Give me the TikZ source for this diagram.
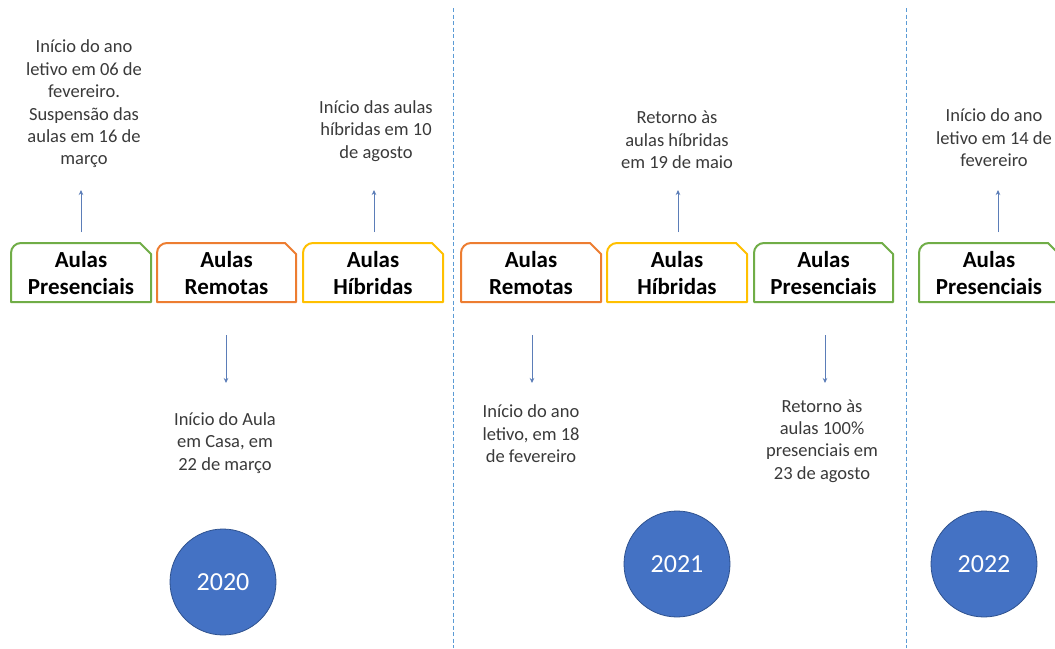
\documentclass[tikz,border=0pt]{standalone}
\usepackage{fontspec}
\setmainfont{Carlito}
\usetikzlibrary{arrows.meta}
\definecolor{pgreen}{HTML}{70AD47}
\definecolor{porange}{HTML}{ED7D31}
\definecolor{pyellow}{HTML}{FFC000}
\definecolor{pblue}{HTML}{4472C4}
\definecolor{pblueline}{HTML}{2F528F}
\definecolor{parrow}{HTML}{5B7DB8}
\definecolor{pdash}{HTML}{5B9BD5}
\definecolor{ptext}{HTML}{3A3A3A}
\tikzset{
  boxtxt/.style={font=\fontsize{23}{27}\selectfont\bfseries, text=black, align=center, inner sep=0pt},
  evtxt/.style={font=\fontsize{18.5}{22.4}\selectfont, text=ptext, align=center, inner sep=0pt},
  yearnode/.style={circle, fill=pblue, draw=pblueline, line width=0.8pt, minimum size=106pt, inner sep=0pt, text=white, font=\fontsize{26}{30}\selectfont},
  arr/.style={draw=parrow, line width=0.8pt, -{Stealth[length=5pt,width=4.5pt]}},
  sep/.style={draw=pdash, line width=0.7pt, dash pattern=on 4pt off 2.5pt},
  boxline/.style={line width=2pt, line join=round}
}
\newcommand\aulabox[5]{% name, xleft, xright, colour, text
  \draw[boxline, draw=#4] (#2,302) -- (#2,253) arc[start angle=180, end angle=90, radius=10pt] -- (#3-11,243) -- (#3,254) -- (#3,302) -- cycle;
  \node[boxtxt] (#1) at ({(#2+#3)/2},273) {#5};
}
\begin{document}
\begin{tikzpicture}[x=1pt,y=-1pt]
\useasboundingbox (0,0) rectangle (1055,648);
\fill[white] (0,0) rectangle (1055,648);
% separators
\coordinate (s1t) at (453,8); \coordinate (s1b) at (453,648);
\coordinate (s2t) at (906,8); \coordinate (s2b) at (906,648);
\draw[sep] (s1t) -- (s1b);
\draw[sep] (s2t) -- (s2b);
% boxes
\aulabox{b1}{11}{151}{pgreen}{Aulas\\Presenciais}
\aulabox{b2}{157}{296}{porange}{Aulas\\Remotas}
\aulabox{b3}{303}{443}{pyellow}{Aulas\\Híbridas}
\aulabox{b4}{461}{601}{porange}{Aulas\\Remotas}
\aulabox{b5}{607}{747}{pyellow}{Aulas\\Híbridas}
\aulabox{b6}{754}{893}{pgreen}{Aulas\\Presenciais}
\aulabox{b7}{919}{1059}{pgreen}{Aulas\\Presenciais}
% event texts
\node[evtxt] (t1) at (84,104) {Início do ano\\letivo em 06 de\\fevereiro.\\Suspensão das\\aulas em 16 de\\março};
\node[evtxt] (t2) at (376,131) {Início das aulas\\híbridas em 10\\de agosto};
\node[evtxt] (t3) at (225,443) {Início do Aula\\em Casa, em\\22 de março};
\node[evtxt] (t4) at (677,140) {Retorno às\\aulas híbridas\\em 19 de maio};
\node[evtxt] (t5) at (531,434) {Início do ano\\letivo, em 18\\de fevereiro};
\node[evtxt] (t6) at (822,441) {Retorno às\\aulas 100\%\\presenciais em\\23 de agosto};
\node[evtxt] (t7) at (994,138) {Início do ano\\letivo em 14 de\\fevereiro};
% arrows
\coordinate (u1s) at (81,232);  \coordinate (u1e) at (81,190);
\coordinate (u3s) at (374,232); \coordinate (u3e) at (374,190);
\coordinate (u5s) at (678,232); \coordinate (u5e) at (678,190);
\coordinate (u7s) at (998,232); \coordinate (u7e) at (998,190);
\coordinate (d2s) at (226,335); \coordinate (d2e) at (226,383);
\coordinate (d4s) at (532,335); \coordinate (d4e) at (532,383);
\coordinate (d6s) at (825,335); \coordinate (d6e) at (825,383);
\draw[arr] (u1s) -- (u1e);
\draw[arr] (u3s) -- (u3e);
\draw[arr] (u5s) -- (u5e);
\draw[arr] (u7s) -- (u7e);
\draw[arr] (d2s) -- (d2e);
\draw[arr] (d4s) -- (d4e);
\draw[arr] (d6s) -- (d6e);
% years
\node[yearnode] (y20) at (223,582) {2020};
\node[yearnode] (y21) at (677,564) {2021};
\node[yearnode] (y22) at (984,564) {2022};
\end{tikzpicture}
\end{document}
